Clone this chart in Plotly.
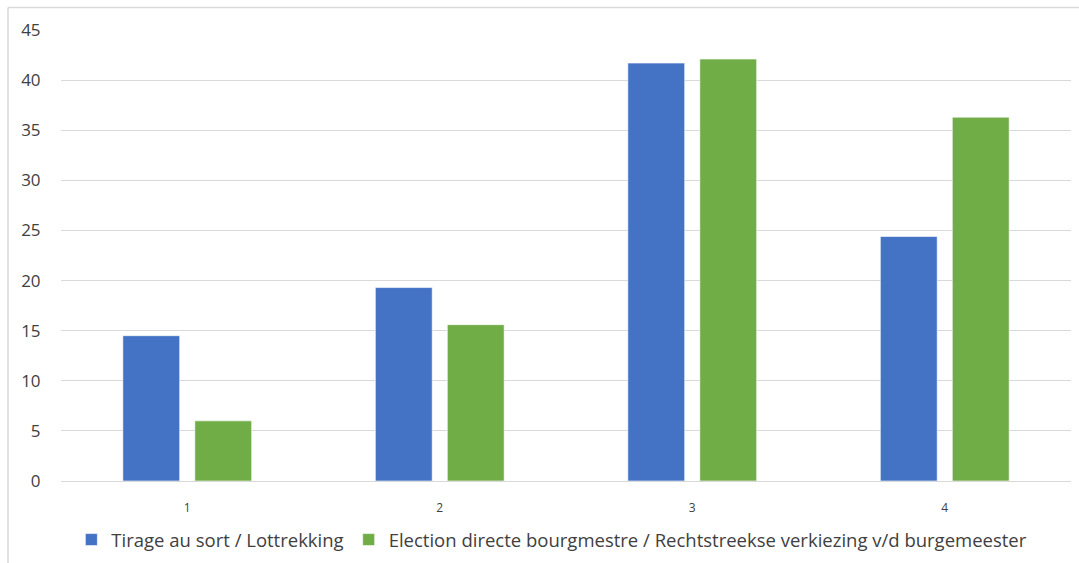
import plotly.graph_objects as go

categories = ["1", "2", "3", "4"]
tirage = [14.5, 19.3, 41.7, 24.4]
election = [6.0, 15.6, 42.1, 36.3]
series_names = [
    "Tirage au sort / Lottrekking",
    "Election directe bourgmestre / Rechtstreekse verkiezing v/d burgemeester",
]
y_ticks = [0, 5, 10, 15, 20, 25, 30, 35, 40, 45]

BLUE = "#4472C4"
GREEN = "#70AD47"
GRID = "#D9D9D9"
TEXT = "#404040"
FONT = "Open Sans"

fig = go.Figure()
fig.add_trace(go.Bar(x=categories, y=tirage, name=series_names[0],
                     marker=dict(color=BLUE, line=dict(color="rgba(255,255,255,0.6)", width=1))))
fig.add_trace(go.Bar(x=categories, y=election, name=series_names[1],
                     marker=dict(color=GREEN, line=dict(color="rgba(255,255,255,0.6)", width=1))))

W, H = 1079, 563
ml, mr, mt, mb = 61, 8, 30, 82

fig.update_layout(
    width=W, height=H,
    margin=dict(l=ml, r=mr, t=mt, b=mb, autoexpand=False),
    paper_bgcolor="white", plot_bgcolor="white",
    barmode="group", bargap=0.43, bargroupgap=0.21,
    font=dict(family=FONT, color=TEXT),
    showlegend=True,
    legend=dict(orientation="h", x=0.486, xanchor="center", y=-0.131, yanchor="middle",
                font=dict(family=FONT, size=18.5, color=TEXT),
                itemwidth=30, tracegroupgap=0),
    xaxis=dict(showgrid=False, showline=False, zeroline=False,
               tickfont=dict(family=FONT, size=12, color=TEXT),
               ticks="outside", ticklen=16, tickcolor="rgba(0,0,0,0)"),
    yaxis=dict(range=[0, 45], tickvals=y_ticks, showgrid=True, gridcolor=GRID, gridwidth=1.3,
               zeroline=True, zerolinecolor=GRID, zerolinewidth=1.3, showline=False,
               tickfont=dict(family=FONT, size=17, color=TEXT),
               ticks="outside", ticklen=16, tickcolor="rgba(0,0,0,0)"),
)

# Light frame around the chart area (open on the right and bottom edges)
pw, ph = W - ml - mr, H - mt - mb
x0 = (8 - ml) / pw
y_top = (H - mb - 7.5) / ph
fig.add_shape(type="line", xref="paper", yref="paper",
              x0=x0, x1=(W + 5 - ml) / pw, y0=y_top, y1=y_top,
              line=dict(color=GRID, width=1.5))
fig.add_shape(type="line", xref="paper", yref="paper",
              x0=x0, x1=x0, y0=y_top, y1=-(mb + 5) / ph,
              line=dict(color=GRID, width=1.5))

fig.write_html("out.html")
